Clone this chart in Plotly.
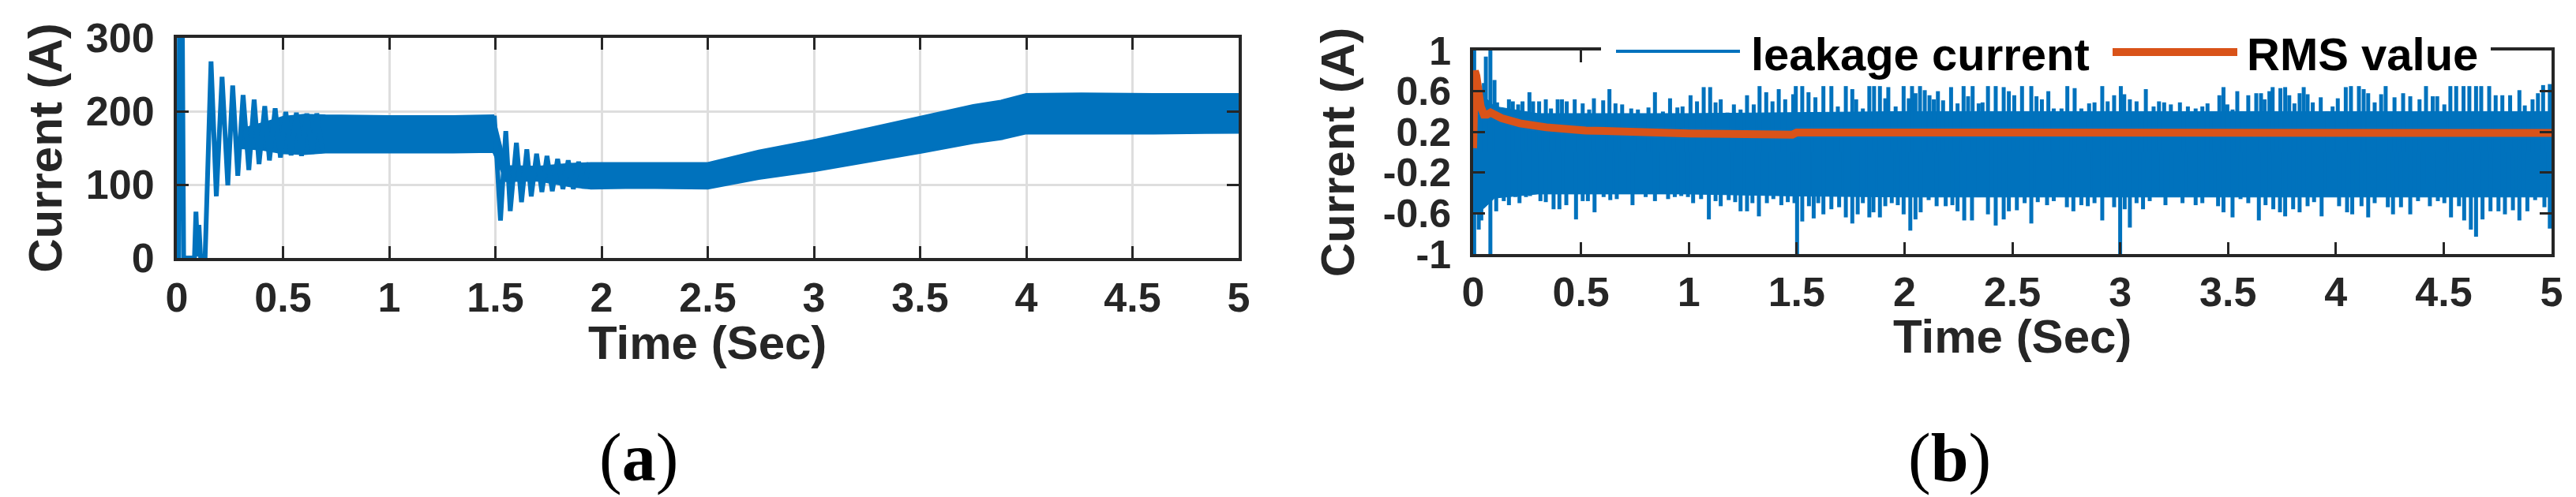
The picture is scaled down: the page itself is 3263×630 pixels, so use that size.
import plotly.graph_objects as go

W, H = 3263, 630
BLUE = "#0072BD"
ORANGE = "#D95319"
AXC = "#262626"
FONT = "Liberation Sans"

# ---------------- (a) inverter current ----------------
# transient at start (peaks / troughs)
ta_start = [0.000, 0.003, 0.008, 0.012, 0.020, 0.026, 0.032, 0.083, 0.090, 0.098, 0.104,
            0.112, 0.133, 0.161, 0.186, 0.213, 0.240, 0.263, 0.287, 0.312, 0.339, 0.364,
            0.387, 0.414, 0.436, 0.463, 0.488, 0.513, 0.538, 0.563, 0.587, 0.612, 0.637,
            0.659, 0.687]
ia_start = [180, 0, 0, 310, 70, 310, 0, 0, 63, 2, 45,
            0, 0, 268, 84, 247, 99, 235, 112, 222, 120, 216,
            128, 207, 133, 204, 137, 199, 140, 198, 139, 197, 142,
            197, 143]
# transient after the step at 1.5 s
ta_step = [1.495, 1.524, 1.549, 1.570, 1.599, 1.623, 1.648, 1.669, 1.694, 1.719, 1.743,
           1.768, 1.793, 1.818, 1.843, 1.867, 1.892, 1.917, 1.942]
ia_step = [194, 51, 173, 64, 157, 76, 148, 84, 142, 90, 139,
           91, 135, 94, 133, 94, 131, 95, 130]
# envelope of the dense ripple band
ta_band = [0.30, 0.40, 0.50, 0.60, 0.70, 1.00, 1.30, 1.49, 1.55, 1.70, 1.85, 1.95, 2.17,
           2.50, 2.74, 3.01, 3.25, 3.51, 3.75, 3.88, 4.00, 4.26, 4.60, 5.00]
ia_upper = [175, 183, 192, 195, 194, 193, 193, 194, 125, 124, 128, 129, 129,
            129, 146, 161, 176, 193, 208, 214, 223, 224, 223, 223]
ia_lower = [150, 148, 143, 142, 144, 144, 144, 145, 105, 106, 98, 95, 96,
            95, 108, 119, 131, 144, 157, 162, 170, 170, 170, 171]

# ---------------- (b) leakage current ----------------
tb_up = [0.005, 0.050, 0.059, 0.080, 0.099, 0.111, 0.142, 0.166, 0.184, 0.209, 0.229, 0.261,
         0.278, 0.306, 0.337, 0.361, 0.392, 0.412, 0.434, 0.471, 0.508, 0.538, 0.560, 0.603,
         0.632, 0.660, 0.691, 0.733, 0.764, 0.813, 0.843, 0.880, 0.913, 0.947, 0.971, 1.008,
         1.038, 1.069, 1.099, 1.124, 1.148, 1.179, 1.209, 1.240, 1.270, 1.301, 1.328, 1.359,
         1.388, 1.417, 1.447, 1.484, 1.496, 1.526, 1.555, 1.587, 1.624, 1.661,
         1.691, 1.728, 1.758, 1.776, 1.807, 1.837, 1.859, 1.886, 1.911, 1.925, 1.959, 1.996,
         2.020, 2.035, 2.051, 2.072, 2.094, 2.116, 2.136, 2.155, 2.179, 2.216, 2.246, 2.274,
         2.295, 2.316, 2.344, 2.362, 2.387, 2.423, 2.460, 2.484, 2.509, 2.545, 2.588, 2.612,
         2.637, 2.667, 2.692, 2.728, 2.755, 2.789, 2.820, 2.856, 2.881, 2.917, 2.942, 2.972,
         3.003, 3.019, 3.045, 3.076, 3.119, 3.155, 3.180, 3.204, 3.235, 3.277, 3.314, 3.350,
         3.381, 3.405, 3.436, 3.460, 3.479, 3.497, 3.521, 3.543, 3.564, 3.594, 3.631, 3.653,
         3.670, 3.692, 3.707, 3.743, 3.765, 3.784, 3.808, 3.832, 3.851, 3.869, 3.893, 3.930,
         3.960, 3.985, 4.009, 4.046, 4.070, 4.107, 4.129, 4.150, 4.180, 4.210, 4.231, 4.272,
         4.312, 4.345, 4.388, 4.418, 4.449, 4.470, 4.503, 4.531, 4.558, 4.592, 4.619, 4.650,
         4.674, 4.711, 4.741, 4.772, 4.808, 4.851, 4.876, 4.912, 4.937, 4.961, 4.992]
ib_up = [1.00, 0.68, 0.94, 1.00, 0.71, 0.49, 0.43, 0.52, 0.50, 0.47, 0.50, 0.59,
         0.50, 0.50, 0.52, 0.43, 0.52, 0.52, 0.50, 0.52, 0.48, 0.42, 0.53, 0.51,
         0.62, 0.48, 0.47, 0.43, 0.42, 0.44, 0.59, 0.40, 0.53, 0.44, 0.45, 0.56,
         0.50, 0.64, 0.64, 0.49, 0.52, 0.39, 0.47, 0.42, 0.56, 0.47, 0.65, 0.59,
         0.50, 0.62, 0.52, 0.57, 0.65, 0.65, 0.59, 0.54, 0.65, 0.65,
         0.45, 0.65, 0.62, 0.52, 0.43, 0.65, 0.65, 0.65, 0.53, 0.64, 0.45, 0.65,
         0.53, 0.65, 0.58, 0.65, 0.61, 0.56, 0.52, 0.60, 0.51, 0.64, 0.48, 0.65,
         0.55, 0.65, 0.48, 0.49, 0.65, 0.65, 0.64, 0.60, 0.56, 0.65, 0.65, 0.55,
         0.52, 0.60, 0.43, 0.43, 0.65, 0.63, 0.43, 0.48, 0.49, 0.65, 0.50, 0.56,
         0.65, 0.57, 0.52, 0.50, 0.62, 0.45, 0.50, 0.49, 0.47, 0.49, 0.45, 0.43,
         0.45, 0.48, 0.39, 0.56, 0.64, 0.47, 0.42, 0.60, 0.40, 0.56, 0.58, 0.58,
         0.52, 0.60, 0.64, 0.63, 0.64, 0.56, 0.48, 0.58, 0.64, 0.57, 0.49, 0.54,
         0.40, 0.45, 0.53, 0.64, 0.65, 0.65, 0.62, 0.58, 0.49, 0.57, 0.65, 0.54,
         0.58, 0.55, 0.52, 0.65, 0.55, 0.55, 0.47, 0.65, 0.65, 0.65, 0.65, 0.65,
         0.65, 0.65, 0.56, 0.56, 0.56, 0.61, 0.46, 0.52, 0.58, 0.66, 0.67]
tb_dn = [0.005, 0.026, 0.038, 0.080, 0.107, 0.142, 0.166, 0.196, 0.215, 0.245, 0.264, 0.312,
         0.337, 0.373, 0.400, 0.432, 0.477, 0.508, 0.532, 0.563, 0.605, 0.636, 0.666, 0.703,
         0.739, 0.776, 0.800, 0.843, 0.874, 0.904, 0.935, 0.965, 0.996, 1.020, 1.057, 1.093,
         1.124, 1.148, 1.185, 1.215, 1.240, 1.270, 1.295, 1.325, 1.362, 1.392, 1.429, 1.459,
         1.490, 1.502, 1.526, 1.557, 1.579, 1.600, 1.624, 1.661,
         1.697, 1.728, 1.758, 1.783, 1.807, 1.837, 1.856, 1.886, 1.911, 1.941, 1.969, 1.996,
         2.027, 2.051, 2.075, 2.112, 2.149, 2.191, 2.222, 2.246, 2.277, 2.313, 2.344, 2.387,
         2.423, 2.460, 2.484, 2.521, 2.557, 2.588, 2.618, 2.661, 2.692, 2.726, 2.753, 2.783,
         2.820, 2.850, 2.881, 2.917, 2.942, 2.972, 3.000, 3.021, 3.045, 3.076, 3.106, 3.137,
         3.173, 3.210, 3.241, 3.289, 3.320, 3.350,
         3.381, 3.424, 3.454, 3.479, 3.521, 3.558, 3.594, 3.643, 3.674, 3.710, 3.741, 3.765,
         3.802, 3.832, 3.869, 3.899, 3.934, 3.967, 4.015, 4.052, 4.076, 4.119, 4.150, 4.180,
         4.210, 4.241, 4.265, 4.302, 4.345, 4.381, 4.408, 4.436, 4.473, 4.503, 4.534, 4.571,
         4.595, 4.626, 4.650, 4.680, 4.717, 4.754, 4.784, 4.821, 4.851, 4.888, 4.924, 4.967,
         4.992]
ib_dn = [-1.00, -0.76, -0.67, -1.00, -0.58, -0.48, -0.52, -0.44, -0.50, -0.44, -0.43, -0.48,
         -0.49, -0.56, -0.56, -0.52, -0.66, -0.48, -0.48, -0.59, -0.44, -0.47, -0.46, -0.41,
         -0.52, -0.37, -0.44, -0.48, -0.40, -0.46, -0.44, -0.43, -0.44, -0.50, -0.46, -0.66,
         -0.48, -0.53, -0.47, -0.49, -0.58, -0.58, -0.50, -0.63, -0.50, -0.46, -0.52, -0.49,
         -0.50, -1.00, -0.68, -0.53, -0.65, -0.50, -0.61, -0.56,
         -0.54, -0.64, -0.70, -0.61, -0.50, -0.64, -0.59, -0.64, -0.53, -0.50, -0.52, -0.61,
         -0.77, -0.66, -0.59, -0.47, -0.53, -0.53, -0.52, -0.58, -0.67, -0.67, -0.44, -0.61,
         -0.72, -0.66, -0.58, -0.57, -0.50, -0.70, -0.49, -0.52, -0.48, -0.35, -0.54, -0.58,
         -0.52, -0.53, -0.50, -0.67, -0.44, -0.54, -1.00, -0.56, -0.74, -0.50, -0.56, -0.48,
         -0.44, -0.52, -0.36, -0.50, -0.41, -0.52,
         -0.50, -0.44, -0.53, -0.59, -0.64, -0.46, -0.50, -0.67, -0.52, -0.56, -0.59, -0.63,
         -0.56, -0.59, -0.53, -0.49, -0.63, -0.36, -0.53, -0.59, -0.61, -0.53, -0.64, -0.50,
         -0.43, -0.54, -0.61, -0.54, -0.61, -0.48, -0.31, -0.53, -0.48, -0.50, -0.64, -0.53,
         -0.67, -0.76, -0.83, -0.66, -0.58, -0.58, -0.61, -0.57, -0.67, -0.58, -0.47, -0.54,
         -0.75]
# dense core of the leakage current (solid region)
tb_core = [0.00, 0.05, 0.10, 0.30, 0.60, 1.00, 1.50, 2.00, 2.50, 3.00, 3.50, 4.00, 4.50, 5.00]
ib_core_hi = [0.62, 0.55, 0.45, 0.38, 0.38, 0.38, 0.39, 0.40, 0.40, 0.40, 0.40, 0.40, 0.40, 0.40]
ib_core_lo = [-0.62, -0.55, -0.45, -0.41, -0.41, -0.41, -0.43, -0.44, -0.44, -0.44, -0.44, -0.44, -0.44, -0.44]
# RMS value
tb_rms = [0.000, 0.004, 0.008, 0.015, 0.025, 0.035, 0.050, 0.065, 0.081, 0.100, 0.132, 0.217,
          0.339, 0.522, 0.730, 1.006, 1.190, 1.480, 1.500, 2.000, 3.000, 4.000, 5.000]
ib_rms = [0.04, 0.60, 0.80, 0.75, 0.55, 0.45, 0.37, 0.37, 0.39, 0.37, 0.335, 0.284,
          0.245, 0.214, 0.194, 0.185, 0.181, 0.173, 0.194, 0.194, 0.192, 0.190, 0.190]

x_ticks = [0, 0.5, 1, 1.5, 2, 2.5, 3, 3.5, 4, 4.5, 5]
x_ticktext = ["0", "0.5", "1", "1.5", "2", "2.5", "3", "3.5", "4", "4.5", "5"]
ya_ticks = [0, 100, 200, 300]
ya_ticktext = ["0", "100", "200", "300"]
yb_ticks = [-1, -0.6, -0.2, 0.2, 0.6, 1]
yb_ticktext = ["-1", "-0.6", "-0.2", "0.2", "0.6", "1"]


def stems(ts, vs):
    xs, ys = [], []
    for t, v in zip(ts, vs):
        xs += [t, t, None]
        ys += [0, v, None]
    return xs, ys


fig = go.Figure()

# (a)
fig.add_trace(go.Scatter(x=ta_band + ta_band[::-1], y=ia_upper + ia_lower[::-1],
                         fill="toself", fillcolor=BLUE, mode="lines",
                         line=dict(color=BLUE, width=3), showlegend=False,
                         xaxis="x", yaxis="y", hoverinfo="skip"))
fig.add_trace(go.Scatter(x=ta_start, y=ia_start, mode="lines",
                         line=dict(color=BLUE, width=6), showlegend=False,
                         xaxis="x", yaxis="y"))
fig.add_trace(go.Scatter(x=ta_step, y=ia_step, mode="lines",
                         line=dict(color=BLUE, width=6), showlegend=False,
                         xaxis="x", yaxis="y"))

# (b)
fig.add_trace(go.Scatter(x=tb_core + tb_core[::-1], y=ib_core_hi + ib_core_lo[::-1],
                         fill="toself", fillcolor=BLUE, mode="lines",
                         line=dict(color=BLUE, width=1), showlegend=False,
                         xaxis="x2", yaxis="y2", hoverinfo="skip"))
sx, sy = stems(tb_up, ib_up)
fig.add_trace(go.Scatter(x=sx, y=sy, mode="lines", line=dict(color=BLUE, width=5),
                         name="leakage current", showlegend=False, xaxis="x2", yaxis="y2"))
sx, sy = stems(tb_dn, ib_dn)
fig.add_trace(go.Scatter(x=sx, y=sy, mode="lines", line=dict(color=BLUE, width=5),
                         showlegend=False, xaxis="x2", yaxis="y2"))
fig.add_trace(go.Scatter(x=tb_rms, y=ib_rms, mode="lines", line=dict(color=ORANGE, width=10),
                         name="RMS value", showlegend=False, xaxis="x2", yaxis="y2"))

tickfont = dict(family=FONT, size=52, color=AXC, weight="bold")
tickfont_b = dict(family=FONT, size=50, color=AXC, weight="bold")
titlefont = dict(family=FONT, size=60, color=AXC, weight="bold")
common = dict(showline=True, linecolor=AXC, linewidth=4, mirror="ticks", ticks="inside",
              ticklen=15, tickwidth=3, tickcolor=AXC, zeroline=False, automargin=False)


def px_x(p):
    return p / W


def px_y(p):
    return (H - p) / H


fig.update_layout(
    template="none",
    width=W, height=H, margin=dict(l=0, r=0, t=0, b=0, autoexpand=False),
    paper_bgcolor="white", plot_bgcolor="white", showlegend=False,
    xaxis=dict(domain=[px_x(216), px_x(1561)], range=[0, 5], anchor="y",
               tickvals=x_ticks, ticktext=x_ticktext, showgrid=True, gridcolor="#dedede",
               gridwidth=3, ticklabelstandoff=2, tickfont=tickfont, **common),
    yaxis=dict(domain=[px_y(319), px_y(40)], range=[0, 300], anchor="x",
               tickvals=ya_ticks, ticktext=ya_ticktext, showgrid=True, gridcolor="#dedede",
               gridwidth=3, ticklabelstandoff=14, tickfont=tickfont,
               title=dict(text="Current (A)", font=titlefont, standoff=12), **common),
    xaxis2=dict(domain=[px_x(1858), px_x(3224)], range=[0, 5], anchor="y2",
                tickvals=x_ticks, ticktext=x_ticktext, showgrid=False, ticklabelstandoff=0,
                tickfont=tickfont, **common),
    yaxis2=dict(domain=[px_y(314), px_y(56)], range=[-1, 1], anchor="x2",
                tickvals=yb_ticks, ticktext=yb_ticktext, showgrid=False, ticklabelstandoff=14,
                tickfont=tickfont_b,
                title=dict(text="Current (A)", font=titlefont, standoff=18), **common),
)

# x-axis titles
fig.add_annotation(x=px_x(888), y=px_y(426), xref="paper", yref="paper", text="Time (Sec)",
                   showarrow=False, xanchor="center", yanchor="middle", font=titlefont)
fig.add_annotation(x=px_x(2541), y=px_y(418), xref="paper", yref="paper", text="Time (Sec)",
                   showarrow=False, xanchor="center", yanchor="middle", font=titlefont)

# manual legend for (b)
fig.add_shape(type="rect", xref="paper", yref="paper",
              x0=px_x(2020), x1=px_x(3147), y0=px_y(92), y1=px_y(22),
              fillcolor="white", line=dict(width=0), layer="above")
fig.add_shape(type="line", xref="paper", yref="paper",
              x0=px_x(2039), x1=px_x(2196), y0=px_y(57), y1=px_y(57),
              line=dict(color=BLUE, width=4), layer="above")
fig.add_shape(type="line", xref="paper", yref="paper",
              x0=px_x(2668), x1=px_x(2826), y0=px_y(58), y1=px_y(58),
              line=dict(color=ORANGE, width=10), layer="above")
legfont = dict(family=FONT, size=58, color="black", weight="bold")
fig.add_annotation(x=px_x(2208), y=px_y(60), xref="paper", yref="paper", text="leakage current",
                   showarrow=False, xanchor="left", yanchor="middle", font=legfont)
fig.add_annotation(x=px_x(2836), y=px_y(60), xref="paper", yref="paper", text="RMS value",
                   showarrow=False, xanchor="left", yanchor="middle", font=legfont)

# panel labels
labfont = dict(family="Liberation Serif", size=86, color="black")
fig.add_annotation(x=px_x(801), y=px_y(572), xref="paper", yref="paper", text="(<b>a</b>)",
                   showarrow=False, xanchor="center", yanchor="middle", font=labfont)
fig.add_annotation(x=px_x(2461), y=px_y(572), xref="paper", yref="paper", text="(<b>b</b>)",
                   showarrow=False, xanchor="center", yanchor="middle", font=labfont)

fig.write_html("out.html")
